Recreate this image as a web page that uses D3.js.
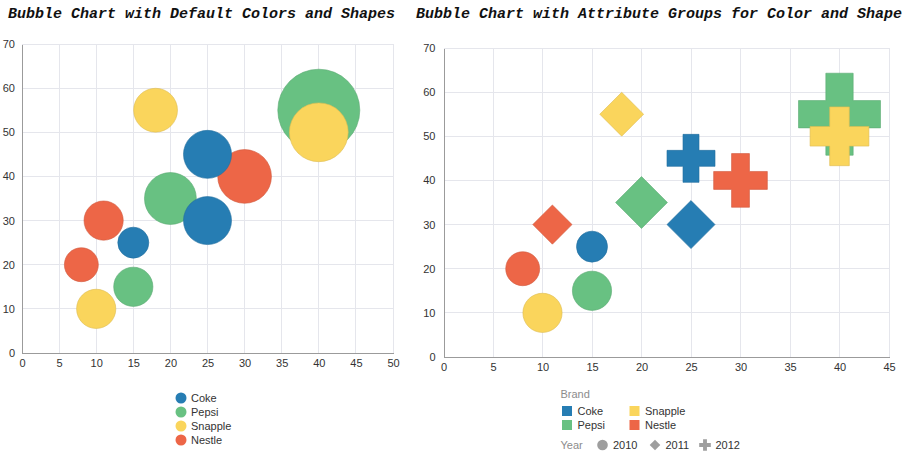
<!DOCTYPE html>
<html><head><meta charset="utf-8">
<script src="https://cdn.jsdelivr.net/npm/d3@7"></script>
<style>
html,body{margin:0;padding:0;background:#fff;}
svg{display:block;}
text{font-family:"Liberation Sans",Arial,sans-serif;}
.title{font-family:"Courier New","Liberation Mono",monospace;font-weight:bold;font-style:italic;font-size:15px;fill:#111;}
</style></head>
<body>
<svg id="chart" width="905" height="461"></svg>
<script>
// ---- data ----
const seriesNames = ["Coke", "Pepsi", "Snapple", "Nestle"];
const seriesX = [[15, 25, 25], [15, 20, 40], [10, 18, 40], [8, 11, 30]];
const seriesY = [[25, 30, 45], [15, 35, 55], [10, 55, 50], [20, 30, 40]];
const seriesZ = [[5, 12, 12], [8, 14, 35], [8, 10, 18], [6, 8, 15]];
const years = ["2010", "2011", "2012"];
const leftXTicks = [0, 5, 10, 15, 20, 25, 30, 35, 40, 45, 50];
const rightXTicks = [0, 5, 10, 15, 20, 25, 30, 35, 40, 45];
const yTicks = [0, 10, 20, 30, 40, 50, 60, 70];
const titles = ["Bubble Chart with Default Colors and Shapes", "Bubble Chart with Attribute Groups for Color and Shape"];
const palette = ["#267db3", "#68c182", "#fad55c", "#ed6647"];

const points = [];
seriesNames.forEach((s, i) => {
  seriesX[i].forEach((x, j) => points.push({series: s, si: i, year: years[j], yi: j, x, y: seriesY[i][j], z: seriesZ[i][j]}));
});
points.sort((a, b) => b.z - a.z);

const svg = d3.select("#chart");
const color = d3.scaleOrdinal().domain(seriesNames).range(palette);
const rScale = d3.scaleSqrt().domain([0, 35]).range([0, 41]);

function plusPath(r) {
  const a = r / 3;
  return `M${-a},${-r}H${a}V${-a}H${r}V${a}H${a}V${r}H${-a}V${a}H${-r}V${-a}H${-a}Z`;
}
function diamondPath(r) { return `M0,${-r}L${r},0L0,${r}L${-r},0Z`; }

function drawChart(cfg) {
  const g = svg.append("g");
  const x = d3.scaleLinear().domain([0, cfg.xMax]).range([cfg.x0, cfg.x1]);
  const y = d3.scaleLinear().domain([0, 70]).range([cfg.y0, cfg.y1]);
  // grid
  g.append("g").selectAll("line").data(yTicks.filter(d => d > 0)).join("line")
    .attr("x1", cfg.x0).attr("x2", cfg.x1).attr("y1", d => y(d)).attr("y2", d => y(d))
    .attr("stroke", "#e5e6ec").attr("stroke-width", 1).attr("shape-rendering", "crispEdges");
  g.append("g").selectAll("line").data(cfg.xTicks.filter(d => d > 0)).join("line")
    .attr("x1", d => x(d)).attr("x2", d => x(d)).attr("y1", cfg.y0).attr("y2", cfg.y1)
    .attr("stroke", "#e5e6ec").attr("stroke-width", 1).attr("shape-rendering", "crispEdges");
  // axes
  const xa = g.append("g").attr("transform", `translate(0,${cfg.y0})`)
    .call(d3.axisBottom(x).tickValues(cfg.xTicks).tickSize(0).tickPadding(6));
  const ya = g.append("g").attr("transform", `translate(${cfg.x0},0)`)
    .call(d3.axisLeft(y).tickValues(yTicks).tickSize(0).tickPadding(cfg.ypad));
  [xa, ya].forEach(a => {
    a.select(".domain").attr("stroke", "#9b9b9b").attr("shape-rendering", "crispEdges");
    a.selectAll("text").attr("font-size", "11px").attr("fill", "#333").attr("font-family", "'Liberation Sans',Arial,sans-serif");
  });
  // marks
  g.append("g").selectAll("path").data(points).join("path")
    .attr("transform", d => `translate(${x(d.x)},${y(d.y)})`)
    .attr("d", d => {
      const r = rScale(d.z);
      if (!cfg.shapes || d.yi === 0) return d3.arc()({innerRadius: 0, outerRadius: r, startAngle: 0, endAngle: 2 * Math.PI});
      return d.yi === 1 ? diamondPath(r) : plusPath(r);
    })
    .attr("fill", d => color(d.series))
    .attr("stroke", d => d3.color(color(d.series)).darker(0.35))
    .attr("stroke-opacity", 0.6)
    .attr("stroke-width", 1);
  // title
  svg.append("text").attr("class", "title").attr("x", cfg.tx).attr("y", 18).text(cfg.title);
}

drawChart({x0: 22, x1: 393, y0: 353, y1: 44, xMax: 50, xTicks: leftXTicks, ypad: 7, shapes: false, tx: 8, title: titles[0]});
drawChart({x0: 443.5, x1: 889, y0: 357, y1: 48, xMax: 45, xTicks: rightXTicks, ypad: 8, shapes: true, tx: 416, title: titles[1]});

// left legend
const lg = svg.append("g");
seriesNames.forEach((s, i) => {
  lg.append("circle").attr("cx", 181).attr("cy", 398 + i * 14).attr("r", 5.5).attr("fill", color(s));
  lg.append("text").attr("x", 191).attr("y", 398 + i * 14).attr("dy", "0.35em").attr("font-size", "11px").attr("fill", "#333").text(s);
});

// right legend
const rg = svg.append("g");
rg.append("text").attr("x", 560.5).attr("y", 394).attr("dy", "0.35em").attr("font-size", "11px").attr("fill", "#8c8c8c").text("Brand");
seriesNames.forEach((s, i) => {
  const col = i < 2 ? 0 : 1, row = i % 2;
  const sx = col === 0 ? 562 : 629.5, sy = 411 + row * 14;
  rg.append("rect").attr("x", sx).attr("y", sy - 5).attr("width", 10).attr("height", 10).attr("fill", color(s));
  rg.append("text").attr("x", sx + 15.5).attr("y", sy).attr("dy", "0.35em").attr("font-size", "11px").attr("fill", "#333").text(s);
});
rg.append("text").attr("x", 560.5).attr("y", 445).attr("dy", "0.35em").attr("font-size", "11px").attr("fill", "#8c8c8c").text("Year");
const yearMarkX = [602.5, 655, 705];
years.forEach((yr, j) => {
  const r = 5.3;
  const d = j === 0 ? d3.arc()({innerRadius: 0, outerRadius: r, startAngle: 0, endAngle: 2 * Math.PI}) : (j === 1 ? diamondPath(r) : plusPath(r + 0.5));
  rg.append("path").attr("transform", `translate(${yearMarkX[j]},445)`).attr("d", d).attr("fill", "#9e9e9e");
  rg.append("text").attr("x", yearMarkX[j] + 10.5).attr("y", 445).attr("dy", "0.35em").attr("font-size", "11px").attr("fill", "#333").text(yr);
});
</script>
</body></html>
